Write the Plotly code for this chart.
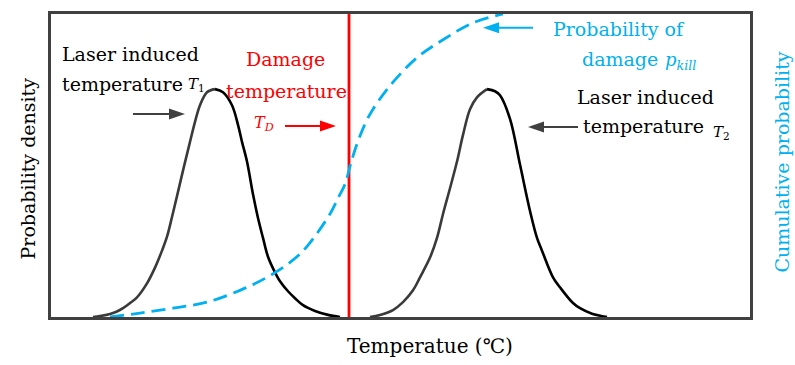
import plotly.graph_objects as go

# ---- data (temperature in arbitrary units, density normalised) ----
t1_left_x = [42, 49, 59, 66, 72, 79, 86, 96, 104, 111, 116, 121, 126, 133, 139, 144, 149, 156, 164]
t1_left_y = [0.000, 0.003, 0.010, 0.018, 0.029, 0.046, 0.065, 0.111, 0.163, 0.219, 0.265, 0.330, 0.399,
             0.497, 0.578, 0.644, 0.699, 0.742, 0.752]
t1_right_x = [164, 172, 181, 187, 191, 196, 202, 207, 212, 217, 223, 229, 237, 244, 252, 264, 277, 289]
t1_right_y = [0.752, 0.742, 0.699, 0.634, 0.578, 0.513, 0.405, 0.327, 0.261, 0.199, 0.154, 0.118, 0.085,
              0.062, 0.039, 0.020, 0.007, 0.000]

t2_left_x = [319, 329, 342, 352, 362, 369, 379, 386, 392, 399, 406, 412, 419, 426, 436]
t2_left_y = [0.000, 0.007, 0.023, 0.049, 0.088, 0.131, 0.196, 0.261, 0.340, 0.425, 0.513, 0.601, 0.686, 0.725, 0.752]
t2_right_x = [436, 444, 449, 459, 469, 479, 486, 491, 502, 509, 522, 529, 541, 556]
t2_right_y = [0.752, 0.745, 0.732, 0.654, 0.503, 0.350, 0.261, 0.219, 0.131, 0.098, 0.046, 0.029, 0.011, 0.000]

pkill_x = [59, 89, 122, 156, 189, 216, 239, 255, 279, 287, 294, 299, 305, 314, 322, 342, 366, 392, 422, 452]
pkill_y = [0.000, 0.013, 0.029, 0.049, 0.088, 0.131, 0.180, 0.229, 0.340, 0.392, 0.438, 0.497,
           0.562, 0.637, 0.686, 0.775, 0.856, 0.915, 0.971, 1.000]

TD = 298

BLUE = "#00B0F0"
RED = "#FF0000"
DARK = "#404040"
FONT = "DejaVu Serif"
FS = 19

# layout helpers (pixel -> axis units) for annotation placement only
def X(px):
    return px - 51

def Y(py):
    return (317 - py) / 306

fig = go.Figure()
LW = 2.6
fig.add_trace(go.Scatter(x=t1_left_x, y=t1_left_y, mode="lines", line=dict(color="#3a3a3a", width=LW, shape="spline"), hoverinfo="skip"))
fig.add_trace(go.Scatter(x=t1_right_x, y=t1_right_y, mode="lines", line=dict(color="#000000", width=LW, shape="spline"), hoverinfo="skip"))
fig.add_trace(go.Scatter(x=t2_left_x, y=t2_left_y, mode="lines", line=dict(color="#3a3a3a", width=LW, shape="spline"), hoverinfo="skip"))
fig.add_trace(go.Scatter(x=t2_right_x, y=t2_right_y, mode="lines", line=dict(color="#000000", width=LW, shape="spline"), hoverinfo="skip"))
fig.add_trace(go.Scatter(x=[TD, TD], y=[0, 1], mode="lines", line=dict(color=RED, width=2.8), hoverinfo="skip"))
fig.add_trace(go.Scatter(x=pkill_x, y=pkill_y, mode="lines", yaxis="y2",
                         line=dict(color=BLUE, width=2.8, shape="spline", dash="14px,7px"), hoverinfo="skip"))

annotations = []

def txt(text, px, py, color="black", size=FS, xanchor="center", angle=0):
    annotations.append(dict(text=text, x=X(px), y=Y(py), xref="x", yref="y", showarrow=False,
                            xanchor=xanchor, yanchor="middle", textangle=angle,
                            font=dict(family=FONT, size=size, color=color)))

txt("Laser induced", 60, 51.6, xanchor="left")
txt("temperature", 60, 81.6, xanchor="left")
txt("<i>T</i><sub>1</sub>", 186, 82.5, size=15, xanchor="left")

txt("Damage", 285, 56.6, color=RED)
txt("temperature", 286, 88.6, color=RED)
txt("<i>T</i><sub><i>D</i></sub>", 252, 122, color=RED, size=16, xanchor="left")

txt("Probability of", 619, 26.6, color=BLUE)
txt("damage", 580, 56.6, color=BLUE, xanchor="left")
txt("<i>p</i><sub><i>kill</i></sub>", 663, 58.5, color=BLUE, size=18, xanchor="left")

txt("Laser induced", 645, 94.6)
txt("temperature", 643.5, 124.6)
txt("<i>T</i><sub>2</sub>", 711, 131, size=15, xanchor="left")

W, H = 795, 365
L, R, T, B = 51, 45, 11, 48
pw, ph = W - L - R, H - T - B

def ptxt(text, px, py, color="black", angle=0, size=FS):
    annotations.append(dict(text=text, x=(px - L) / pw, y=(H - B - py) / ph, xref="paper", yref="paper",
                            showarrow=False, textangle=angle, xanchor="center", yanchor="middle",
                            font=dict(family=FONT, size=size, color=color)))

ptxt("Probability density", 28, 167, angle=-90)
ptxt("Cumulative probability", 782, 161, color=BLUE, angle=-90)
ptxt("Temperatue (℃)", 430, 346, size=20)

shapes = []

def arrow(tail_px, tip_px, py, color):
    d = 1 if tip_px > tail_px else -1
    shapes.append(dict(type="line", xref="x", yref="y", x0=X(tail_px), x1=X(tip_px - d * 12), y0=Y(py), y1=Y(py),
                       line=dict(color=color, width=2)))
    path = "M0,0 L%d,5.5 L%d,-5.5 Z" % (-d * 16, -d * 16)
    shapes.append(dict(type="path", xref="x", yref="y", xsizemode="pixel", ysizemode="pixel",
                       xanchor=X(tip_px), yanchor=Y(py), path=path,
                       fillcolor=color, line=dict(color=color, width=0)))

arrow(133, 185, 112, DARK)
arrow(285, 336, 124, RED)
arrow(533, 483, 25, BLUE)
arrow(578, 528, 125, DARK)

fig.update_layout(
    width=W, height=H,
    margin=dict(l=L, r=R, t=T, b=B, pad=0),
    paper_bgcolor="white", plot_bgcolor="white",
    showlegend=False,
    font=dict(family=FONT),
    xaxis=dict(range=[0, 699], showgrid=False, zeroline=False, showticklabels=False, ticks="",
               showline=True, mirror=True, linecolor=DARK, linewidth=2.5),
    yaxis=dict(range=[0, 1], showgrid=False, zeroline=False, showticklabels=False, ticks="",
               showline=True, mirror=True, linecolor=DARK, linewidth=2.5),
    yaxis2=dict(range=[0, 1], overlaying="y", side="right", showgrid=False, zeroline=False,
                showticklabels=False, ticks="", showline=False),
    annotations=annotations,
    shapes=shapes,
)

fig.write_html("out.html")
